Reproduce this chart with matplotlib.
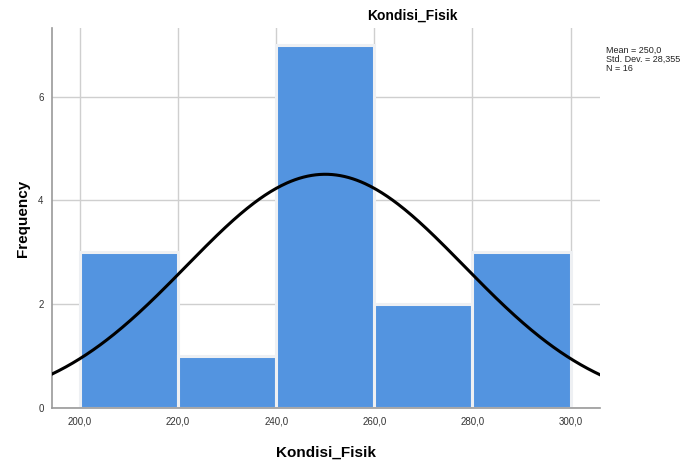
import numpy as np
import matplotlib.pyplot as plt
from matplotlib.ticker import FuncFormatter

plt.rcParams['font.family'] = ['Liberation Sans', 'DejaVu Sans']

# class edges and counts for Kondisi_Fisik
bin_edges = [200, 220, 240, 260, 280, 300]
counts = [3, 1, 7, 2, 3]
mean = 250.0
std_dev = 28.355
n = 16


def comma(v, digits):
    return f'{v:.{digits}f}'.replace('.', ',')


fig = plt.figure(figsize=(6.97, 4.65), dpi=100)
ax = fig.add_axes([52 / 697, 57 / 465, 548 / 697, 380 / 465])

widths = np.diff(bin_edges)
ax.bar(bin_edges[:-1], counts, width=widths, align='edge',
       color='#5394e0', edgecolor='#eef0f3', linewidth=2.2, zorder=2)

# fitted normal curve scaled to the histogram
xlim = (194.3, 306.0)
xs = np.linspace(xlim[0], xlim[1], 400)
bw = widths[0]
ys = n * bw / (std_dev * np.sqrt(2 * np.pi)) * np.exp(-0.5 * ((xs - mean) / std_dev) ** 2)
ax.plot(xs, ys, color='black', linewidth=2.2, zorder=3)

ax.set_xlim(*xlim)
ax.set_ylim(0, 7.32)
ax.set_xticks(bin_edges)
ax.set_yticks([0, 2, 4, 6])
ax.xaxis.set_major_formatter(FuncFormatter(lambda v, p: comma(v, 1)))
ax.grid(True, color='#cfcfcf', linewidth=1, zorder=0)
ax.set_axisbelow(True)

for s in ['top', 'right']:
    ax.spines[s].set_visible(False)
for s in ['left', 'bottom']:
    ax.spines[s].set_color('#999999')
    ax.spines[s].set_linewidth(1.2)
ax.tick_params(length=0, labelsize=7, colors='#333333', pad=6)

ax.set_xlabel('Kondisi_Fisik', fontsize=11, fontweight='bold', labelpad=14)
ax.set_ylabel('Frequency', fontsize=11, fontweight='bold', labelpad=6)

fig.text(412 / 697, 1 - 16 / 465, 'Kondisi_Fisik', fontsize=10, fontweight='bold',
         ha='center', va='center')
stats = f'Mean = {comma(mean, 1)}\nStd. Dev. = {comma(std_dev, 3)}\nN = {n}'
fig.text(606 / 697, 1 - 46 / 465, stats,
         fontsize=6.5, ha='left', va='top', linespacing=1.0, color='#222222')

fig.savefig('out.png', dpi=100)
